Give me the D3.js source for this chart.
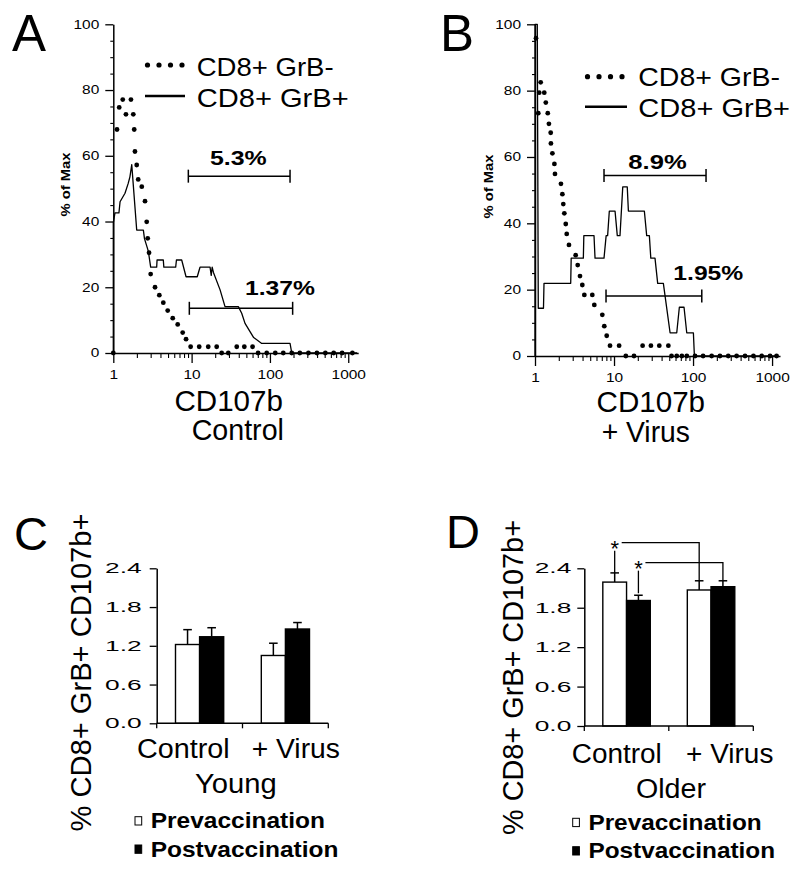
<!DOCTYPE html>
<html><head><meta charset="utf-8">
<script src="https://cdn.jsdelivr.net/npm/d3@7"></script>
<style>
body{margin:0;background:#fff}
svg{display:block}
text{font-family:"Liberation Sans",Arial,Helvetica,sans-serif;fill:#000}
</style>
</head><body>
<svg id="c" width="800" height="873"></svg>
<script>
// ---------------- DATA ----------------
const histXTicks = [1, 10, 100, 1000];
const histYTicks = [0, 20, 40, 60, 80, 100];
const legendLabels = ["CD8+ GrB-", "CD8+ GrB+"];

// Panel A (Control) : GrB- (dotted) histogram points [CD107b, % of Max]
const aNeg = [[1,0],[1.115,68.0],[1.19,74.7],[1.32,77.1],[1.45,72.6],[1.68,77.1],[1.80,72.6],[1.85,68.0],[1.89,61.3],
  [1.99,57.2],[2.08,52.8],[2.31,50.6],[2.54,46.2],[2.67,39.9],[2.75,34.9],[2.86,30.5],[3.00,24.0],[3.41,20.0],
  [3.87,17.6],[4.35,15.3],[4.95,12.9],[5.74,10.6],[6.64,8.7],[7.69,6.2],[8.49,4.2],[9.72,1.9],[12.5,1.9],[16.3,1.9],
  [20.9,1.9],[24.2,0],[29.4,0],[37.7,1.9],[47.1,1.9],[60.0,1.9],[70.6,0],[91,0],[117,0],[148,0],[190,0],[241,0],
  [310,0],[398,0],[510,0],[652,0],[835,0],[1130,0]];
// Panel A : GrB+ (solid) histogram outline
const aPos = [[1,0],[1,39.6],[1.05,42.6],[1.18,42.6],[1.22,46.0],[1.41,48.6],[1.55,51.6],[1.63,53.6],[1.72,57.3],
  [1.99,37.4],[2.42,37.4],[2.50,34.8],[2.80,31.0],[3.00,26.1],[3.58,26.1],[3.62,28.3],[4.35,28.3],[4.42,26.1],
  [6.26,26.1],[6.40,28.3],[7.47,28.3],[8.49,23.2],[11.8,23.2],[12.8,26.1],[17.2,26.1],[17.8,23.6],[18.3,26.1],
  [19.0,24.5],[23.1,19.2],[26.7,14.1],[39.5,14.1],[43.6,12.1],[48.1,9.0],[55.7,6.5],[62,4.7],[78.6,2.9],
  [180.6,2.9],[190,0],[1300,0]];
const aGates = [{label:"5.3%", x0:9.08, x1:180.6, y:53.8, lx:39.5},
                {label:"1.37%", x0:9.35, x1:195, y:13.6, lx:134.6}];

// Panel B (+ Virus)
const bNeg = [[1.03,95.8],[1.10,73.2],[1.13,79.4],[1.18,82.5],[1.31,79.4],[1.37,76.4],[1.45,73.2],[1.50,70.0],
  [1.58,67.3],[1.59,64.1],[1.66,61.1],[1.76,57.9],[1.79,54.9],[2.13,51.9],[2.22,48.8],[2.28,45.8],[2.35,43.0],
  [2.45,39.8],[2.52,36.8],[2.69,33.5],[3.27,30.4],[3.47,27.4],[3.71,24.1],[3.97,21.4],[4.21,18.4],[5.31,18.4],
  [5.63,15.4],[7.11,12.4],[7.53,9.0],[8.08,6.1],[8.90,3.1],[11.6,3.1],[14.1,0],[17.9,0],[23.0,3.1],[29.3,3.1],
  [37.4,3.1],[48.7,3.1],[53.4,0],[62.2,0],[72.2,0],[83.4,0],[106,0],[134,0],[172,0],[219,0],[279,0],[356,0],
  [455,0],[581,0],[740,0],[943,0],[1140,0]];
const bPos = [[1,0],[1,100],[1.069,100],[1.10,14.4],[1.28,14.4],[1.30,21.9],[2.83,21.9],[2.87,29.5],[4.09,29.5],
  [4.15,36.3],[5.58,36.3],[5.75,29.5],[7.47,29.5],[7.95,36.3],[8.3,36.3],[8.72,43.7],[10.3,43.7],[11.0,36.3],
  [11.9,36.3],[12.9,51.0],[14.7,51.0],[15.2,43.7],[24.2,43.7],[25.9,36.3],[28.0,36.3],[29.2,29.5],[33.0,29.5],
  [35.7,21.9],[42.1,21.9],[51.2,7.0],[62.2,7.0],[67.1,14.7],[76.9,14.7],[83.2,7.0],[101,7.0],[104,0],[1200,0]];
const bGates = [{label:"8.9%", x0:7.47, x1:146, y:54.4, lx:35.5},
                {label:"1.95%", x0:7.92, x1:129, y:18.1, lx:156}];

// Panels C / D : bar charts
const groups = ["Control", "+ Virus"];
const series = ["Prevaccination", "Postvaccination"];
const barTicks = [0.0, 0.6, 1.2, 1.8, 2.4];
const youngPre = [1.22, 1.05];
const youngPreErr = [0.23, 0.19];
const youngPost = [1.34, 1.46];
const youngPostErr = [0.14, 0.10];
const olderPre = [2.19, 2.07];
const olderPreErr = [0.14, 0.14];
const olderPost = [1.91, 2.12];
const olderPostErr = [0.08, 0.09];
const olderSig = [
  {from:["Control","Prevaccination"], to:["+ Virus","Prevaccination"], startLow:2.33, level:2.79, endLow:2.22},
  {from:["Control","Postvaccination"], to:["+ Virus","Postvaccination"], startLow:2.02, level:2.486, endLow:2.21}
];

// ---------------- DRAW ----------------
const svg = d3.select("#c");
svg.append("rect").attr("width",800).attr("height",873).attr("fill","#fff");

function addText(g, s, x, y, o = {}) {
  const t = g.append("text").attr("x", x).attr("y", y).text(s)
    .attr("font-size", o.fs || 12)
    .attr("text-anchor", o.anchor || "start")
    .attr("font-weight", o.fw || "normal");
  if (o.tl) t.attr("textLength", o.tl).attr("lengthAdjust", "spacingAndGlyphs");
  if (o.rot) t.attr("transform", `rotate(-90,${x},${y})`);
  if (o.fill) t.attr("fill", o.fill);
  return t;
}

function styleAxis(a, fs, charW) {
  a.attr("font-family", null).attr("font-size", null);
  a.selectAll("path.domain").attr("stroke", "#000").attr("stroke-width", 1.5);
  a.selectAll(".tick line").attr("stroke", "#000").attr("stroke-width", 1.3);
  a.selectAll(".tick text").attr("fill", "#000").attr("font-size", fs)
    .each(function() {
      const s = d3.select(this);
      const n = s.text().length;
      if (n) s.attr("textLength", n * charW).attr("lengthAdjust", "spacingAndGlyphs");
    });
}

const histXMinor = d3.range(0, 3).flatMap(k => d3.range(2, 10).map(m => m * Math.pow(10, k)));
const histYMinor = d3.range(0, 101, 5).filter(v => v % 20 !== 0);

function histPanel(c) {
  const g = svg.append("g");
  const xs = c.xs, ys = c.ys;
  // x axis
  g.append("g").attr("transform", `translate(0,${ys(0)})`)
    .call(d3.axisBottom(xs).tickValues(histXTicks).tickSize(10).tickPadding(7).tickSizeOuter(0).tickFormat(d3.format("d")))
    .call(a => styleAxis(a, 12, 8.6));
  g.append("g").attr("transform", `translate(0,${ys(0)})`)
    .call(d3.axisBottom(xs).tickValues(histXMinor).tickSize(5).tickFormat(""))
    .call(a => { a.select(".domain").remove(); a.selectAll("line").attr("stroke","#000").attr("stroke-width",1.1); });
  // y axis
  g.append("g").attr("transform", `translate(${xs(1)},0)`)
    .call(d3.axisLeft(ys).tickValues(histYTicks).tickSize(8).tickPadding(6).tickSizeOuter(0))
    .call(a => styleAxis(a, 12, 8.6));
  g.append("g").attr("transform", `translate(${xs(1)},0)`)
    .call(d3.axisLeft(ys).tickValues(histYMinor).tickSize(3).tickFormat(""))
    .call(a => { a.select(".domain").remove(); a.selectAll("line").attr("stroke","#000").attr("stroke-width",1.1); });

  // solid histogram (GrB+)
  g.append("path").datum(c.pos)
    .attr("d", d3.line().x(d => xs(d[0])).y(d => ys(d[1])))
    .attr("fill", "none").attr("stroke", "#000").attr("stroke-width", 1.3).attr("stroke-linejoin","round");
  // dotted histogram (GrB-)
  g.selectAll("circle.neg").data(c.neg).join("circle").attr("class","neg")
    .attr("cx", d => xs(d[0])).attr("cy", d => ys(d[1])).attr("r", 2.4).attr("fill", "#000");

  // gates
  c.gates.forEach((gt, i) => {
    const yy = ys(gt.y);
    g.append("line").attr("x1", xs(gt.x0)).attr("x2", xs(gt.x1)).attr("y1", yy).attr("y2", yy)
      .attr("stroke", "#000").attr("stroke-width", 1.5);
    [gt.x0, gt.x1].forEach(v => g.append("line").attr("x1", xs(v)).attr("x2", xs(v))
      .attr("y1", yy - 6.5).attr("y2", yy + 6.5).attr("stroke", "#000").attr("stroke-width", 1.5));
    addText(g, gt.label, xs(gt.lx), yy - c.gateOff[i], {fs: 19.5, fw: "bold", anchor: "middle", tl: c.gateTL[i]});
  });

  // legend
  const L = c.legend;
  for (let k = 0; k < 4; k++) {
    g.append("circle").attr("cx", L.x + 2.5 + k * 11.5).attr("cy", L.y1).attr("r", 2.6).attr("fill", "#000");
  }
  g.append("line").attr("x1", L.x).attr("x2", L.x + L.w).attr("y1", L.y2).attr("y2", L.y2)
    .attr("stroke", "#000").attr("stroke-width", 2.6);
  addText(g, legendLabels[0], L.tx, L.b1, {fs: 25, tl: L.tl[0]});
  addText(g, legendLabels[1], L.tx, L.b2, {fs: 25, tl: L.tl[1]});

  // labels
  addText(g, c.letter, c.letterX, 50.5, {fs: 51});
  addText(g, "% of Max", c.ylabX, c.ylabY, {fs: 13, fw: "bold", anchor: "middle", rot: true, tl: 64});
  addText(g, "CD107b", c.t1x, c.t1y, {fs: 29, anchor: "middle", tl: 108.5});
  addText(g, c.sub, c.t2x, c.t2y, {fs: 29, anchor: "middle", tl: c.subTL});
}

histPanel({
  xs: d3.scaleLog().domain([1, 1340]).range([113.3, 358.2]),
  ys: d3.scaleLinear().domain([0, 100]).range([353, 24.3]),
  neg: aNeg, pos: aPos, gates: aGates, gateOff: [11, 13], gateTL: [56.7, 70],
  legend: {x: 145, w: 40, y1: 65, y2: 96, tx: 196.7, b1: 76, b2: 106.7, tl: [137, 152]},
  letter: "A", letterX: 12, ylabX: 70, ylabY: 184.5,
  t1x: 228.7, t1y: 411, sub: "Control", t2x: 237.8, t2y: 440, subTL: 92.3
});
histPanel({
  xs: d3.scaleLog().domain([1, 1260]).range([535, 780]),
  ys: d3.scaleLinear().domain([0, 100]).range([356, 24.3]),
  neg: bNeg, pos: bPos, gates: bGates, gateOff: [6.5, 15.5], gateTL: [58.3, 70],
  legend: {x: 585, w: 42, y1: 76.7, y2: 106.7, tx: 638.3, b1: 86, b2: 117.3, tl: [141.7, 151.7]},
  letter: "B", letterX: 440, ylabX: 493, ylabY: 186.5,
  t1x: 650.8, t1y: 411.7, sub: "+ Virus", t2x: 645.8, t2y: 441.7, subTL: 88.3
});

function barPanel(c) {
  const g = svg.append("g");
  const x0 = d3.scaleBand().domain(groups).range([c.xa, c.xb]);
  const x1 = d3.scaleBand().domain(series).range([0, x0.bandwidth()]).paddingOuter(0.78).paddingInner(0);
  const y = d3.scaleLinear().domain([0, 2.4]).range([c.y0, c.y1]);
  const vals = {Prevaccination: c.pre, Postvaccination: c.post};
  const errs = {Prevaccination: c.preErr, Postvaccination: c.postErr};
  const rows = [];
  groups.forEach((gr, i) => series.forEach(s => rows.push({gr, s, v: vals[s][i], e: errs[s][i]})));
  const cx = (gr, s) => x0(gr) + x1(s) + x1.bandwidth() / 2;

  // error bars (upper only)
  rows.forEach(r => {
    const xc = cx(r.gr, r.s);
    g.append("line").attr("x1", xc).attr("x2", xc).attr("y1", y(r.v)).attr("y2", y(r.v + r.e))
      .attr("stroke", "#000").attr("stroke-width", 1.5);
    g.append("line").attr("x1", xc - 4.3).attr("x2", xc + 4.3).attr("y1", y(r.v + r.e)).attr("y2", y(r.v + r.e))
      .attr("stroke", "#000").attr("stroke-width", 1.5);
  });
  // bars
  g.selectAll("rect.bar").data(rows).join("rect").attr("class", "bar")
    .attr("x", d => x0(d.gr) + x1(d.s)).attr("width", x1.bandwidth())
    .attr("y", d => y(d.v)).attr("height", d => y(0) - y(d.v))
    .attr("fill", d => d.s === "Prevaccination" ? "#fff" : "#000")
    .attr("stroke", "#000").attr("stroke-width", 1.4);

  // y axis
  g.append("g").attr("transform", `translate(${c.xa},0)`)
    .call(d3.axisLeft(y).tickValues(barTicks).tickSize(7).tickPadding(c.tpad).tickSizeOuter(0).tickFormat(d3.format(".1f")))
    .call(a => styleAxis(a, 14, 12.2));
  // x axis with ticks at group boundaries
  const bounds = groups.map(d => x0(d)).concat([x0.range()[1]]);
  g.append("line").attr("x1", c.xa).attr("x2", c.xb).attr("y1", y(0)).attr("y2", y(0))
    .attr("stroke", "#000").attr("stroke-width", 1.5);
  bounds.forEach(b => g.append("line").attr("x1", b).attr("x2", b).attr("y1", y(0)).attr("y2", y(0) + 5)
    .attr("stroke", "#000").attr("stroke-width", 1.3));

  // significance brackets
  (c.sig || []).forEach(sg => {
    const xs0 = cx(sg.from[0], sg.from[1]);
    const xs1 = cx(sg.to[0], sg.to[1]);
    const yl = y(sg.level);
    g.append("line").attr("x1", xs0).attr("x2", xs0).attr("y1", y(sg.startLow)).attr("y2", yl + 8)
      .attr("stroke", "#000").attr("stroke-width", 1.3);
    g.append("path").attr("d", `M${xs0 + 7},${yl}H${xs1}V${y(sg.endLow)}`)
      .attr("fill", "none").attr("stroke", "#000").attr("stroke-width", 1.3);
    addText(g, "*", xs0, yl + 13, {fs: 22, anchor: "middle", fill: "#666"});
  });

  // group labels
  addText(g, groups[0], x0(groups[0]) + x0.bandwidth() / 2 + c.off[0], c.lb, {fs: 27, anchor: "middle", tl: c.gtl[0]});
  addText(g, groups[1], x0(groups[1]) + x0.bandwidth() / 2 + c.off[1], c.lb, {fs: 27, anchor: "middle", tl: c.gtl[1]});
  addText(g, c.title, (c.xa + c.xb) / 2 + c.toff, c.tb, {fs: 27, anchor: "middle", tl: c.ttl});
  // y label
  addText(g, "% CD8+ GrB+ CD107b+", c.ylx, c.yly, {fs: 29, anchor: "middle", rot: true, tl: c.yltl});
  // letter
  addText(g, c.letter, c.letterX, c.letterY, {fs: 47});
  // legend
  series.forEach((s, i) => {
    g.append("rect").attr("x", c.legX).attr("y", c.legY[i]).attr("width", 6.7).attr("height", 8.3)
      .attr("fill", i === 0 ? "#fff" : "#000").attr("stroke", "#000").attr("stroke-width", 1);
    addText(g, s, c.legX + 15.7, c.legB[i], {fs: 22, fw: "bold", tl: c.legTL[i]});
  });
}

barPanel({
  xa: 156.7, xb: 328.3, y0: 723.3, y1: 568.3, tpad: 8,
  pre: youngPre, preErr: youngPreErr, post: youngPost, postErr: youngPostErr,
  off: [-16.3, 10.4], gtl: [92.7, 88.3], lb: 758.3,
  title: "Young", toff: -6.7, tb: 793, ttl: 81.7,
  ylx: 91, yly: 672.5, yltl: 318,
  letter: "C", letterX: 14, letterY: 550,
  legX: 135, legY: [816.7, 845], legB: [828.3, 856.7], legTL: [174.3, 187.7]
});
barPanel({
  xa: 584.3, xb: 753.3, y0: 726, y1: 568.3, tpad: 6,
  pre: olderPre, preErr: olderPreErr, post: olderPost, postErr: olderPostErr, sig: olderSig,
  off: [-9.8, 18.7], gtl: [90, 87.3], lb: 763.3,
  title: "Older", toff: 2.2, tb: 798, ttl: 70,
  ylx: 523, yly: 677.5, yltl: 315,
  letter: "D", letterX: 446, letterY: 548.3,
  legX: 572.7, legY: [818.3, 846.7], legB: [830, 858.3], legTL: [173.3, 186.7]
});
</script>
</body></html>
